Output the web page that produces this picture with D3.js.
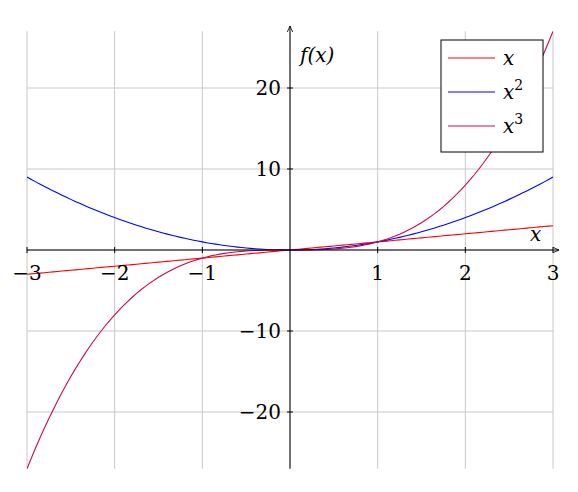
<!DOCTYPE html>
<html><head><meta charset="utf-8">
<script src="https://cdn.jsdelivr.net/npm/d3@7"></script>
<style>body{margin:0;background:#fff}</style>
</head><body><svg id="c" width="578" height="492" font-family="'DejaVu Serif', 'Liberation Serif', serif"></svg>
<script>
const xTicks=[-3,-2,-1,1,2,3];
const yTicks=[-20,-10,10,20];
const xSamples=d3.range(-3,3.0001,0.05);
const seriesNames=["x","x2","x3"];
const seriesColors=["#ff0000","#0000ff","#cc0a4a"];
const powers=[1,2,3];
const svg=d3.select("#c");
const x=d3.scaleLinear().domain([-3,3]).range([27,553]);
const y=d3.scaleLinear().domain([-27,27]).range([468.7,31.3]);
const g=svg.append("g");
g.selectAll(".vg").data([-3,-2,-1,0,1,2,3]).join("line").attr("x1",d=>x(d)).attr("x2",d=>x(d)).attr("y1",y(27)).attr("y2",y(-27)).attr("stroke","#c8c8c8");
g.selectAll(".hg").data([-20,-10,0,10,20]).join("line").attr("y1",d=>y(d)).attr("y2",d=>y(d)).attr("x1",x(-3)).attr("x2",x(3)).attr("stroke","#c8c8c8");
svg.append("clipPath").attr("id","cl").append("rect").attr("x",x(-3)).attr("y",y(27)).attr("width",x(3)-x(-3)).attr("height",y(-27)-y(27));
const line=d3.line().x(d=>x(d[0])).y(d=>y(d[1]));
powers.forEach((p,i)=>{
  g.append("path").attr("clip-path","url(#cl)").datum(xSamples.map(v=>[v,Math.pow(v,p)])).attr("d",line).attr("fill","none").attr("stroke",seriesColors[i]).attr("stroke-width",1.1);
});
const defs=svg.append("defs");
defs.append("marker").attr("id","ar").attr("viewBox","0 0 10 10").attr("refX",9).attr("refY",5).attr("markerWidth",7).attr("markerHeight",7).attr("orient","auto").append("path").attr("d","M0,1 L9,5 L0,9").attr("fill","none").attr("stroke","#000").attr("stroke-width",1.2);
g.append("line").attr("x1",x(-3)).attr("x2",559).attr("y1",y(0)).attr("y2",y(0)).attr("stroke","#000").attr("marker-end","url(#ar)");
g.append("line").attr("x1",x(0)).attr("x2",x(0)).attr("y1",y(-27)).attr("y2",26).attr("stroke","#000").attr("marker-end","url(#ar)");
g.selectAll(".xt").data(xTicks).join("line").attr("x1",d=>x(d)).attr("x2",d=>x(d)).attr("y1",y(0)-3).attr("y2",y(0)+3).attr("stroke","#000");
g.selectAll(".yt").data(yTicks).join("line").attr("y1",d=>y(d)).attr("y2",d=>y(d)).attr("x1",x(0)-3).attr("x2",x(0)+3).attr("stroke","#000");
const fmt=d=>d<0?"\u2212"+(-d):""+d;
g.selectAll(".xl").data(xTicks).join("text").attr("x",d=>x(d)).attr("y",y(0)+30).attr("text-anchor","middle").attr("font-size",20).text(fmt);
g.selectAll(".yl").data(yTicks).join("text").attr("x",x(0)-9).attr("y",d=>y(d)+7).attr("text-anchor","end").attr("font-size",20).text(fmt);
g.append("text").attr("x",300).attr("y",62).attr("font-size",20).attr("font-style","italic").text("f(x)");
g.append("text").attr("x",530).attr("y",241).attr("font-size",20).attr("font-style","italic").text("x");
const lg=svg.append("g");
lg.append("rect").attr("x",441).attr("y",40).attr("width",102).attr("height",112).attr("fill","#fff").attr("stroke","#000");
const labels=[["x",""],["x","2"],["x","3"]];
seriesNames.forEach((n,i)=>{
  const yy=58+i*34;
  lg.append("line").attr("x1",448).attr("x2",495).attr("y1",yy).attr("y2",yy).attr("stroke",seriesColors[i]);
  const t=lg.append("text").attr("x",503).attr("y",yy+7).attr("font-size",20);
  t.append("tspan").attr("font-style","italic").text(labels[i][0]);
  if(labels[i][1]) t.append("tspan").attr("dy",-9).attr("font-size",14).text(labels[i][1]);
});
</script></body></html>
